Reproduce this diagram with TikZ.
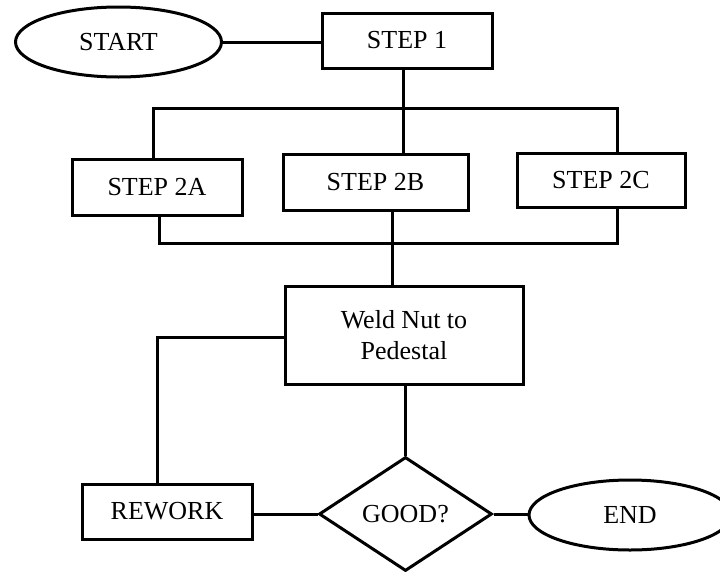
\documentclass[tikz,border=0pt]{standalone}
\usepackage{fontspec}
\setmainfont{Liberation Serif}
\usetikzlibrary{shapes.geometric}
\begin{document}
\begin{tikzpicture}[x=1pt,y=-1pt,
  every node/.style={font=\fontsize{26}{31}\selectfont},
  line/.style={line width=3pt},
  box/.style={draw,line width=3pt,rectangle,inner sep=0pt,align=center},
  oval/.style={draw,line width=3pt,ellipse,inner sep=0pt,
    minimum width=206pt,minimum height=70pt},
  decision/.style={draw,line width=3pt,diamond,inner sep=0pt,
    minimum width=173pt,minimum height=114pt}]
\clip (0,0) rectangle (720,571);

% process nodes
\node[oval] (start) at (118.5,42) {START};
\node[box,minimum width=170pt,minimum height=55pt] (s1) at (407,40.5) {STEP 1};
\node[box,minimum width=170pt,minimum height=56pt] (s2a) at (157,187) {STEP 2A};
\node[box,minimum width=185pt,minimum height=56pt] (s2b) at (375.5,182) {STEP 2B};
\node[box,minimum width=168pt,minimum height=54pt] (s2c) at (601,180) {STEP 2C};
\node[box,minimum width=238pt,minimum height=98pt] (weld) at (404,335) {Weld Nut to\\Pedestal};
\node[decision] (dia) at (405.5,514) {GOOD?};
\node[box,minimum width=170pt,minimum height=55pt] (rework) at (167,511.5) {REWORK};
\node[oval,minimum width=202pt] (finish) at (630,515) {END};

% junction points of the connector buses
\coordinate (t1) at (403,108.5);
\coordinate (tA) at (153,108.5);
\coordinate (tC) at (617,108.5);
\coordinate (bA) at (159,243);
\coordinate (bC) at (617,243);
\coordinate (bB) at (392,243);
\coordinate (wB) at (405,420);
\coordinate (rk) at (157,337);

% connectors
\draw[line] (start.east) -- (start.east -| s1.west);
\draw[line] (t1 |- s1.south) -- (t1);
\draw[line] (tA |- s2a.north) -- (tA) -- (tC) -- (tC |- s2c.north);
\draw[line] (t1) -- (t1 |- s2b.north);
\draw[line] (bA |- s2a.south) -- (bA) -- (bC) -- (bC |- s2c.south);
\draw[line] (bB |- s2b.south) -- (bB |- weld.north);
\draw[line] (wB |- weld.south) -- (wB |- dia.north);
\draw[line] (rework.east |- dia.west) -- (dia.west);
\draw[line] (dia.east) -- (dia.east -| finish.west);
\draw[line] (rk |- rework.north) -- (rk) -- (rk -| weld.west);
\end{tikzpicture}
\end{document}
